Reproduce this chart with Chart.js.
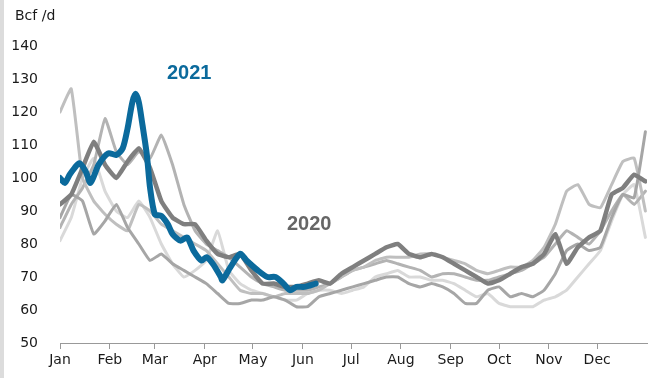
<!DOCTYPE html>
<html>
<head>
<meta charset="utf-8">
<script src="https://cdn.jsdelivr.net/npm/chart.js@4.4.0/dist/chart.umd.min.js"></script>
<style>
  html, body { margin: 0; padding: 0; background: #fff; }
  #wrap { position: relative; width: 653px; height: 378px; }
  #strip { position: absolute; left: 0; top: 0; width: 4px; height: 378px; background: #dcdcdc; }
  #chart { position: absolute; left: 0; top: 0; }
</style>
</head>
<body>
<div id="wrap">
  <div id="strip"></div>
  <canvas id="chart" width="653" height="378"></canvas>
</div>
<script>
// month ticks (day of year)
var monthLabels = ['Jan', 'Feb', 'Mar', 'Apr', 'May', 'Jun', 'Jul', 'Aug', 'Sep', 'Oct', 'Nov', 'Dec'];
var monthStarts = [0, 31, 59, 90, 120, 151, 181, 212, 243, 273, 304, 334];
var yTicks = [50, 60, 70, 80, 90, 100, 110, 120, 130, 140];

// weekly sample days for past years
var weekDays = [0, 7, 14, 21, 28, 35, 42, 49, 56, 63, 70, 77, 84, 91, 98, 105, 112, 119, 126, 133,
  140, 147, 154, 161, 168, 175, 182, 189, 196, 203, 210, 217, 224, 231, 238, 245, 252, 259, 266,
  273, 280, 287, 294, 301, 308, 315, 322, 329, 336, 343, 350, 357, 364];

// past years, Bcf/d
var y2016 = [81, 88, 100, 106, 96, 90, 88, 93, 88, 80, 74, 70, 72, 75, 84, 72, 68, 66, 65, 64,
  63, 63, 65, 66, 66, 65, 66, 67, 70, 71, 72, 70, 70, 69, 69, 68, 66, 64, 65, 62,
  61, 61, 61, 63, 64, 66, 70, 74, 78, 87, 95, 98, 82];
var y2017 = [85, 92, 97, 104, 118, 108, 104, 108, 106, 113, 104, 92, 84, 80, 78, 76, 73, 70, 68, 67,
  66, 66, 66, 67, 68, 70, 72, 73, 74, 75, 74, 73, 72, 70, 71, 71, 70, 69, 69, 70,
  71, 72, 74, 76, 80, 84, 82, 80, 84, 90, 95, 92, 96];
var y2018 = [120, 127, 100, 93, 89, 86, 84, 92, 90, 86, 84, 82, 80, 78, 74, 70, 66, 65, 65, 64,
  65, 65, 65, 66, 68, 70, 72, 73, 75, 76, 76, 76, 77, 77, 76, 75, 74, 72, 71, 72,
  73, 73, 75, 79, 86, 96, 98, 92, 91, 98, 105, 106, 90];
var y2019 = [88, 95, 93, 83, 87, 92, 85, 80, 75, 77, 74, 72, 70, 68, 65, 62, 62, 63, 63, 64,
  63, 61, 61, 64, 65, 66, 67, 68, 69, 70, 70, 68, 67, 68, 67, 65, 62, 62, 66, 67,
  64, 65, 64, 66, 71, 78, 80, 78, 79, 88, 95, 94, 114];
var y2020 = [92, 95, 103, 111, 104, 100, 105, 109, 103, 93, 88, 86, 86, 81, 77, 76, 77, 72, 68, 68,
  67, 67, 68, 69, 68, 71, 73, 75, 77, 79, 80, 77, 76, 77, 76, 74, 72, 70, 68, 69,
  71, 73, 74, 77, 83, 74, 79, 82, 84, 95, 97, 101, 99];

// 2021 to date
var days2021 = [0, 3, 6, 9, 12, 16, 19, 24, 30, 35, 39, 42, 45, 47, 49, 51, 54, 56, 59, 63, 67, 70,
  75, 79, 83, 88, 91, 95, 100, 101, 106, 112, 116, 123, 129, 134, 139, 143, 147, 152, 159];
var y2021 = [100, 98.5, 101, 103, 104.5, 102, 98.5, 104, 107.5, 107, 109, 115, 123, 125.5, 123, 117,
  107, 97, 89, 88.5, 86, 83, 81, 82, 78, 75, 76, 74, 70, 69, 73, 77, 75, 72, 70, 70, 68, 66, 67, 67, 68];

function pts(days, vals) {
  return days.map(function(d, i) { return { x: d, y: vals[i] }; });
}

function line(label, days, vals, color, width, tension) {
  return {
    label: label,
    data: pts(days, vals),
    borderColor: color,
    borderWidth: width,
    borderJoinStyle: 'round',
    borderCapStyle: 'round',
    pointRadius: 0,
    tension: tension,
    fill: false
  };
}

var tickFont = { family: 'DejaVu Sans', size: 14 };

var textPlugin = {
  id: 'texts',
  afterDraw: function(chart) {
    var ctx = chart.ctx;
    ctx.save();
    ctx.textAlign = 'left';
    ctx.textBaseline = 'alphabetic';
    ctx.fillStyle = '#1a1a1a';
    ctx.font = '14px "DejaVu Sans"';
    ctx.fillText('Bcf /d', 15, 20);
    ctx.font = 'bold 20px "Liberation Sans", Arial';
    ctx.fillStyle = '#0b6a9c';
    ctx.fillText('2021', 167, 79);
    ctx.fillStyle = '#666666';
    ctx.fillText('2020', 287, 230);
    ctx.restore();
  }
};

var ctx = document.getElementById('chart').getContext('2d');
new Chart(ctx, {
  type: 'line',
  data: {
    datasets: [
      line('2021', days2021, y2021, '#0b6a9c', 6, 0.25),
      line('2020', weekDays, y2020, '#7f7f7f', 4.5, 0.12),
      line('2019', weekDays, y2019, '#a6a6a6', 3, 0.12),
      line('2018', weekDays, y2018, '#bfbfbf', 3, 0.12),
      line('2017', weekDays, y2017, '#b3b3b3', 3, 0.12),
      line('2016', weekDays, y2016, '#d9d9d9', 3, 0.12)
    ]
  },
  options: {
    responsive: false,
    animation: false,
    layout: { padding: { top: 46, right: 6, left: 0, bottom: 0 } },
    plugins: { legend: { display: false }, tooltip: { enabled: false } },
    scales: {
      x: {
        type: 'linear',
        min: 0,
        max: 365,
        afterBuildTicks: function(axis) {
          axis.ticks = monthStarts.map(function(v) { return { value: v }; });
        },
        afterFit: function(axis) { axis.height = 35; },
        ticks: {
          autoSkip: false,
          maxRotation: 0,
          padding: 3,
          color: '#1a1a1a',
          font: tickFont,
          callback: function(value, index) { return monthLabels[index]; }
        },
        grid: { drawOnChartArea: false, drawTicks: true, tickLength: 6, color: '#999999' },
        border: { display: true, color: '#999999', width: 1 }
      },
      y: {
        min: 50,
        max: 140,
        afterBuildTicks: function(axis) {
          axis.ticks = yTicks.map(function(v) { return { value: v }; });
        },
        afterFit: function(axis) { axis.width = 60; },
        ticks: { padding: 14, color: '#1a1a1a', font: tickFont },
        grid: { display: false },
        border: { display: false }
      }
    }
  },
  plugins: [textPlugin]
});
</script>
</body>
</html>
